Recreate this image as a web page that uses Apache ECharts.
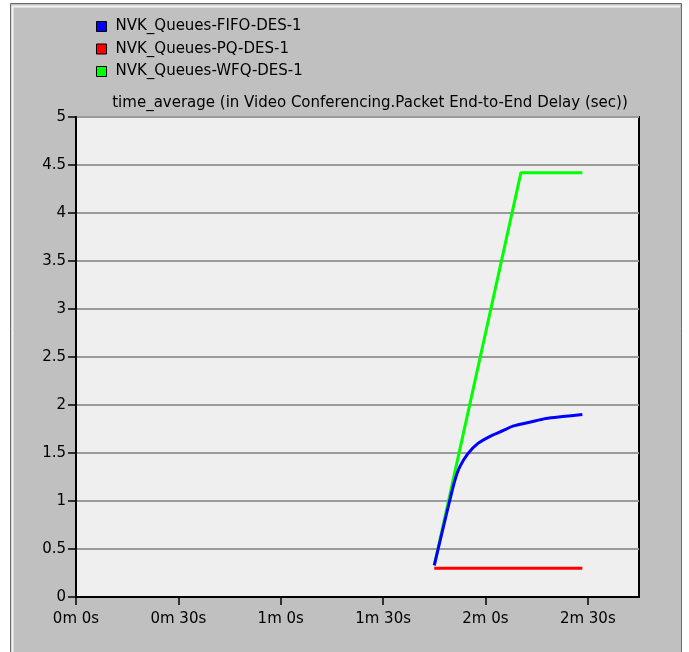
<!DOCTYPE html>
<html>
<head>
<meta charset="utf-8">
<script src="https://cdn.jsdelivr.net/npm/echarts@6/dist/echarts.min.js"></script>
<style>
  html, body { margin: 0; padding: 0; background: #ffffff; }
  #chart { width: 689px; height: 652px; }
</style>
</head>
<body>
<div id="chart"></div>
<script>
// series names
const seriesNames = ['NVK_Queues-FIFO-DES-1', 'NVK_Queues-PQ-DES-1', 'NVK_Queues-WFQ-DES-1']
const seriesColors = ['#0000ff', '#ff0000', '#00ff00']

// time in seconds, delay in seconds
const fifoTime = [105, 107, 109.5, 111, 112.4, 114.8, 117.8, 121.7, 125.6, 128, 132.9, 137.7, 142.6, 148.4]
const fifoDelay = [0.33, 0.63, 1.0, 1.21, 1.35, 1.49, 1.60, 1.68, 1.74, 1.78, 1.82, 1.86, 1.88, 1.90]
const pqTime = [105, 148.4]
const pqDelay = [0.30, 0.30]
const wfqTime = [105, 130.4, 148.4]
const wfqDelay = [0.33, 4.42, 4.42]

// axis ticks
const xTicks = [0, 30, 60, 90, 120, 150]
const yTicks = [0, 0.5, 1, 1.5, 2, 2.5, 3, 3.5, 4, 4.5, 5]

const zip = (xs, ys) => xs.map((x, i) => [x, ys[i]])
const fmtTime = (v) => Math.floor(v / 60) + 'm ' + (v % 60) + 's'

const FONT = 'DejaVu Sans, Verdana, sans-serif'
const FS = 15

const chart = echarts.init(document.getElementById('chart'))

const option = {
  backgroundColor: 'transparent',
  animation: false,
  graphic: [
    {
      type: 'rect',
      shape: { x: 10.5, y: 3.5, width: 671, height: 660 },
      style: { fill: '#c0c0c0', stroke: '#6a6a6a', lineWidth: 1 },
      z: -10
    },
    {
      type: 'polyline',
      shape: { points: [[12.5, 660], [12.5, 6.5], [680, 6.5]] },
      style: { stroke: '#f4f4f4', lineWidth: 2, fill: null },
      z: -9
    }
  ],
  title: {
    text: 'time_average (in Video Conferencing.Packet End-to-End Delay (sec))',
    left: 370,
    textAlign: 'center',
    top: 96,
    padding: 0,
    textStyle: { fontFamily: FONT, fontSize: FS, fontWeight: 'normal', color: '#000' }
  },
  legend: {
    orient: 'vertical',
    left: 96,
    top: 19,
    padding: 0,
    itemWidth: 10,
    itemHeight: 10,
    itemGap: 7.5,
    icon: 'rect',
    data: seriesNames,
    itemStyle: { borderColor: '#000', borderWidth: 1 },
    textStyle: { fontFamily: FONT, fontSize: FS, color: '#000', padding: [0, 0, 0, 4] }
  },
  grid: {
    left: 76,
    right: 50,
    top: 117,
    bottom: 55,
    show: true,
    backgroundColor: '#efefef',
    borderColor: '#000',
    borderWidth: 2
  },
  xAxis: {
    type: 'value',
    min: 0,
    max: 165,
    interval: 30,
    axisLine: { show: true, onZero: false, lineStyle: { color: '#000', width: 2 } },
    axisTick: { show: true, customValues: xTicks, length: 8, lineStyle: { color: '#000', width: 1.5 } },
    axisLabel: {
      customValues: xTicks,
      formatter: fmtTime,
      margin: 15,
      fontFamily: FONT,
      fontSize: FS,
      color: '#000'
    },
    splitLine: { show: false }
  },
  yAxis: {
    type: 'value',
    min: 0,
    max: 5,
    interval: 0.5,
    axisLine: { show: true, lineStyle: { color: '#000', width: 2 } },
    axisTick: { show: true, customValues: yTicks, length: 8, lineStyle: { color: '#000', width: 1.5 } },
    axisLabel: {
      customValues: yTicks,
      margin: 10,
      fontFamily: FONT,
      fontSize: FS,
      color: '#000'
    },
    splitLine: { show: true, lineStyle: { color: '#9a9a9a', width: 2 } }
  },
  series: [
    {
      name: seriesNames[0],
      type: 'line',
      data: zip(fifoTime, fifoDelay),
      smooth: 0.3,
      symbol: 'none',
      color: seriesColors[0],
      lineStyle: { width: 3, color: seriesColors[0] },
      z: 4
    },
    {
      name: seriesNames[1],
      type: 'line',
      data: zip(pqTime, pqDelay),
      symbol: 'none',
      color: seriesColors[1],
      lineStyle: { width: 3, color: seriesColors[1] },
      z: 3
    },
    {
      name: seriesNames[2],
      type: 'line',
      data: zip(wfqTime, wfqDelay),
      symbol: 'none',
      color: seriesColors[2],
      lineStyle: { width: 3, color: seriesColors[2] },
      z: 2
    }
  ]
}

chart.setOption(option)
</script>
</body>
</html>
